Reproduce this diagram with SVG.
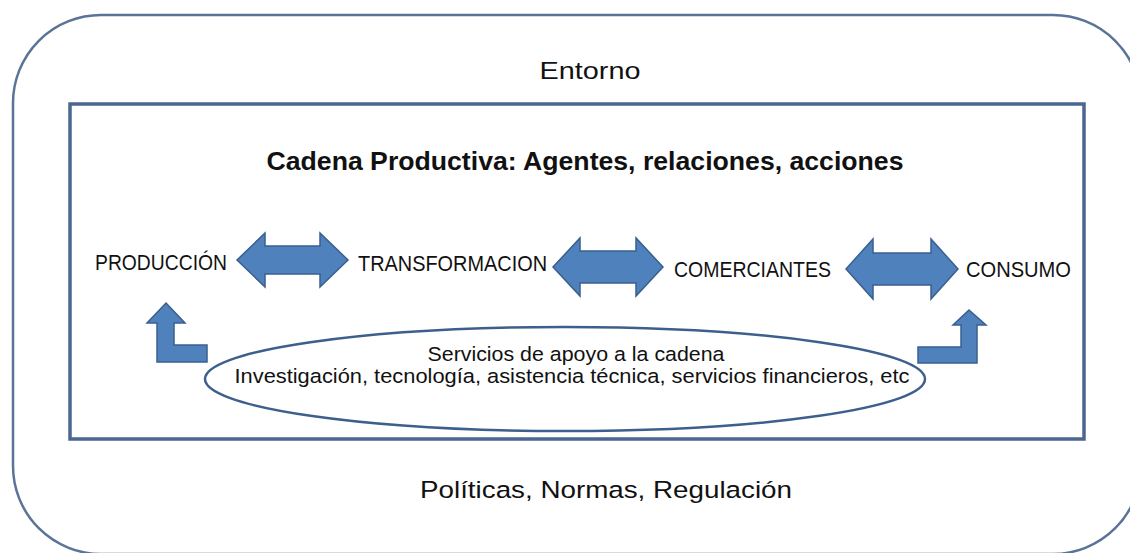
<svg xmlns="http://www.w3.org/2000/svg" width="1130" height="553" viewBox="0 0 1130 553">
<style>
.t{font-family:"Liberation Sans",Arial,sans-serif;fill:#111;}
.lbl{font-size:22px;}
.arr{fill:#4f81bd;stroke:#3a5f8f;stroke-width:1.5;stroke-linejoin:miter;}
</style>
<rect width="1130" height="553" fill="#fff"/>
<g id="entorno">
<rect x="13" y="15" width="1128" height="539" rx="88" ry="88" fill="none" stroke="#5a7397" stroke-width="2.5"/>
<text class="t" x="590" y="79" font-size="24.5" text-anchor="middle" textLength="101" lengthAdjust="spacingAndGlyphs">Entorno</text>
<text class="t" x="606" y="498" font-size="24.5" text-anchor="middle" textLength="372" lengthAdjust="spacingAndGlyphs">Políticas, Normas, Regulación</text>
</g>
<g id="cadena">
<rect x="70" y="104" width="1014" height="335" fill="none" stroke="#4b6690" stroke-width="3.5"/>
<text class="t" x="585" y="170" font-size="26.5" font-weight="bold" text-anchor="middle" textLength="637" lengthAdjust="spacingAndGlyphs">Cadena Productiva: Agentes, relaciones, acciones</text>
</g>
<g id="produccion"><text class="t lbl" x="95" y="270" textLength="132" lengthAdjust="spacingAndGlyphs">PRODUCCIÓN</text></g>
<g id="transformacion"><text class="t lbl" x="358" y="271" textLength="189" lengthAdjust="spacingAndGlyphs">TRANSFORMACION</text></g>
<g id="comerciantes"><text class="t lbl" x="674" y="277" textLength="157" lengthAdjust="spacingAndGlyphs">COMERCIANTES</text></g>
<g id="consumo"><text class="t lbl" x="966" y="277" textLength="105" lengthAdjust="spacingAndGlyphs">CONSUMO</text></g>
<g id="servicios">
<ellipse cx="565" cy="379" rx="360" ry="52" fill="none" stroke="#3d5f8e" stroke-width="2.5"/>
<text class="t" x="576" y="361" font-size="20.5" text-anchor="middle" textLength="297" lengthAdjust="spacingAndGlyphs">Servicios de apoyo a la cadena</text>
<text class="t" x="572" y="383" font-size="20.5" text-anchor="middle" textLength="675" lengthAdjust="spacingAndGlyphs">Investigación, tecnología, asistencia técnica, servicios financieros, etc</text>
</g>
<g id="connectors">
<polygon class="arr" points="237,260 265,233 265,246 320,246 320,233 348,260 320,287 320,274 265,274 265,287"/>
<polygon class="arr" points="553,267 580,238 580,251 636,251 636,238 663,267 636,296 636,283 580,283 580,296"/>
<polygon class="arr" points="846,269 873,239 873,253 931,253 931,239 958,269 931,299 931,285 873,285 873,299"/>
<polygon class="arr" points="166,303 185,323 174,323 174,345 207,345 207,362 157,362 157,323 147,323"/>
<polygon class="arr" points="969,310 986,325 977,325 977,363 918,363 918,347 961,347 961,325 953,325"/>
</g>
</svg>
